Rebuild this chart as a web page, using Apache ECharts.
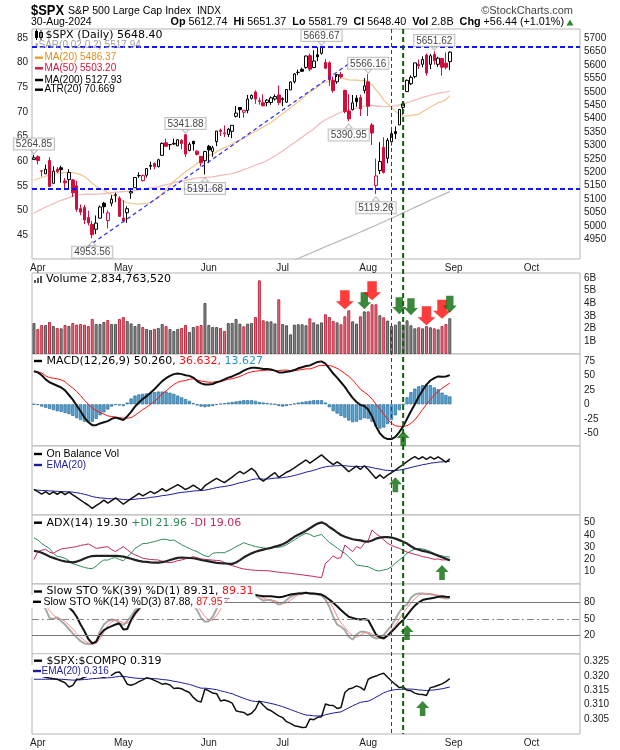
<!DOCTYPE html>
<html><head><meta charset="utf-8">
<script src="https://cdn.jsdelivr.net/npm/echarts@6/dist/echarts.min.js"></script>
<style>html,body{margin:0;padding:0;background:#fff}#c{width:620px;height:750px}</style>
</head><body><div id="c"></div>
<script>
// ---------------- DATA ----------------
const marketHolidays = ['2024-03-29','2024-05-27','2024-06-19','2024-07-04','2024-09-02'];
const slotCount = 141;
const prevClose = 5248.49;
const opens = [5248.03,5257.97,5204.29,5194.37,5244.05,5158.95,5211.37,5217.03,5167.88,5172.95,
5171.51,5149.67,5064.59,5068.97,5031.52,5005.44,4987.33,5028.85,5084.86,5019.88,
5084.65,5114.13,5103.78,5029.03,5049.32,5122.78,5142.42,5187.20,5168.98,5189.03,
5225.49,5233.08,5221.10,5263.26,5310.07,5303.10,5305.35,5298.69,5319.28,5340.26,
5281.45,5315.91,5278.73,5259.77,5243.21,5297.15,5278.24,5314.48,5357.80,5343.81,
5341.22,5353.00,5409.13,5441.93,5424.08,5431.11,5476.15,5499.99,5466.77,5459.58,
5460.73,5460.71,5473.59,5488.48,5471.08,5461.84,5507.44,5537.91,5572.75,5584.24,
5591.26,5635.21,5590.76,5638.16,5644.09,5610.07,5608.56,5543.37,5537.80,5565.30,
5505.84,5428.70,5433.67,5476.55,5478.73,5505.59,5537.84,5376.63,5151.14,5206.42,
5293.13,5252.57,5314.02,5351.88,5376.98,5442.34,5501.12,5530.50,5557.23,5602.88,
5603.09,5637.77,5602.89,5639.66,5602.89,5624.50,5607.30,5612.74];
const highs = [5264.85,5263.95,5208.34,5228.75,5256.59,5222.18,5219.57,5224.81,5178.43,5211.78,
5175.03,5168.43,5079.84,5077.96,5056.66,5019.02,5038.84,5076.12,5089.48,5057.75,
5114.62,5123.49,5110.83,5096.12,5073.21,5139.12,5181.00,5200.23,5191.95,5215.30,
5239.66,5237.26,5250.37,5311.76,5325.49,5305.45,5325.32,5324.32,5323.18,5341.88,
5311.65,5315.91,5282.27,5260.21,5280.33,5302.11,5298.80,5354.16,5362.35,5375.08,
5365.79,5375.95,5447.25,5441.93,5432.39,5488.50,5490.38,5505.53,5478.31,5490.66,
5472.88,5483.14,5490.81,5523.64,5479.55,5509.69,5539.27,5570.33,5583.11,5590.75,
5635.39,5642.45,5655.56,5666.94,5669.67,5622.49,5614.05,5557.50,5555.20,5575.00,
5508.04,5491.59,5488.32,5487.74,5489.46,5551.51,5566.16,5383.89,5250.89,5312.34,
5330.64,5328.03,5358.00,5371.20,5436.50,5463.22,5546.23,5561.98,5608.30,5620.51,
5632.68,5643.22,5641.82,5651.62,5631.18,5627.03,5646.95,5651.37];
const lows = [5245.82,5229.20,5184.05,5194.37,5146.06,5157.21,5197.35,5160.78,5138.70,5138.77,
5107.94,5052.47,5039.83,5007.25,5001.89,4953.56,4969.40,5027.96,5047.02,4990.58,
5073.14,5088.65,5035.31,5013.45,5011.05,5101.22,5142.42,5178.96,5165.86,5180.41,
5209.68,5211.16,5217.98,5263.26,5296.19,5283.59,5302.40,5297.87,5286.01,5256.93,
5278.39,5280.89,5262.70,5222.10,5191.68,5234.32,5257.63,5297.64,5335.36,5331.33,
5331.52,5327.25,5404.37,5402.51,5403.75,5420.40,5471.32,5455.56,5452.03,5447.59,
5446.56,5451.87,5467.54,5451.12,5446.53,5458.43,5507.42,5531.63,5562.51,5574.57,
5586.44,5576.53,5590.44,5614.75,5639.02,5584.81,5522.81,5497.04,5530.24,5550.90,
5419.98,5390.95,5430.70,5444.44,5410.00,5493.75,5410.42,5302.03,5119.26,5193.56,
5195.54,5233.85,5300.00,5324.37,5376.98,5415.17,5501.12,5525.33,5550.74,5585.50,
5591.57,5560.95,5585.16,5602.34,5593.48,5560.95,5583.71,5581.79];
const closes = [5254.35,5243.77,5205.81,5211.49,5147.21,5204.34,5202.39,5209.91,5160.64,5199.06,
5123.41,5061.82,5051.41,5022.21,5011.12,4967.23,5010.60,5070.55,5071.63,5048.42,
5099.96,5116.17,5035.69,5018.39,5064.20,5127.79,5180.74,5187.70,5187.67,5214.08,
5222.68,5221.42,5246.68,5308.15,5297.10,5303.27,5308.13,5321.41,5307.01,5267.84,
5304.72,5306.04,5266.95,5235.48,5277.51,5283.40,5291.34,5354.03,5352.96,5346.99,
5360.79,5375.32,5421.03,5433.74,5431.60,5473.23,5487.03,5473.17,5464.62,5447.87,
5469.30,5477.90,5482.87,5460.48,5475.09,5509.01,5537.02,5567.19,5572.85,5576.98,
5633.91,5584.54,5615.35,5631.22,5667.20,5588.27,5544.59,5505.00,5564.41,5555.74,
5427.13,5399.22,5459.10,5463.54,5436.44,5522.30,5446.68,5346.56,5186.33,5240.03,
5199.50,5319.31,5344.16,5344.39,5434.43,5455.21,5543.22,5554.25,5608.25,5597.12,
5620.85,5570.64,5634.61,5616.84,5625.80,5592.18,5591.96,5648.40];
const ma20 = [5170.57,5175.91,5179.65,5186.29,5188.41,5190.76,5194.70,5199.30,5198.57,5200.25,
5198.90,5196.14,5191.24,5183.42,5172.75,5159.03,5147.85,5140.47,5133.87,5123.87,
5116.15,5109.77,5101.26,5091.61,5087.46,5083.63,5082.55,5081.44,5082.79,5083.54,
5088.50,5096.48,5106.25,5120.54,5134.84,5151.64,5166.52,5179.06,5190.83,5201.80,
5212.04,5221.54,5233.10,5243.95,5254.62,5262.40,5267.93,5276.25,5284.51,5291.16,
5298.06,5305.76,5314.47,5320.75,5327.48,5335.98,5344.92,5352.51,5360.39,5369.39,
5377.62,5386.21,5397.01,5408.26,5418.14,5429.42,5441.70,5452.36,5463.36,5474.85,
5488.51,5498.97,5508.69,5518.56,5530.34,5536.09,5538.97,5540.56,5545.55,5550.95,
5548.84,5544.90,5543.72,5543.87,5541.94,5542.60,5538.08,5527.05,5507.73,5490.88,
5469.16,5455.90,5442.34,5428.00,5416.36,5409.70,5409.64,5412.10,5414.29,5416.36,
5426.04,5434.62,5443.39,5451.06,5460.52,5464.02,5471.28,5486.37];
const ma50 = [5046.77,5056.03,5063.35,5070.57,5076.22,5082.94,5089.10,5095.48,5100.13,5105.61,
5111.17,5114.28,5116.14,5117.73,5118.87,5118.31,5118.56,5119.44,5120.44,5122.35,
5124.34,5126.07,5126.67,5127.53,5129.18,5130.00,5131.84,5134.20,5136.39,5139.28,
5141.81,5143.50,5145.81,5150.40,5154.25,5157.17,5160.86,5164.93,5167.56,5169.61,
5172.69,5176.47,5178.82,5179.96,5181.02,5181.86,5183.00,5185.72,5188.71,5190.66,
5192.79,5195.42,5199.72,5204.17,5209.85,5215.23,5220.93,5226.19,5232.27,5237.25,
5244.16,5252.49,5261.11,5269.88,5279.16,5290.00,5300.52,5310.46,5320.48,5331.05,
5341.73,5351.10,5362.69,5374.95,5387.01,5396.22,5403.49,5409.84,5417.38,5424.21,
5428.30,5431.85,5436.10,5439.21,5442.00,5446.38,5449.15,5449.65,5447.24,5446.68,
5444.58,5444.84,5446.39,5448.56,5451.70,5455.14,5460.18,5464.18,5469.29,5474.29,
5479.49,5483.40,5487.67,5491.33,5495.22,5497.59,5499.69,5503.20];
const ma200 = [null,null,null,null,null,null,null,null,null,null,
null,null,null,null,null,null,null,null,null,null,
null,null,null,null,null,null,null,null,null,null,
null,null,null,null,null,null,null,null,null,null,
null,null,null,null,null,null,null,null,null,null,
null,null,null,null,null,null,null,null,null,null,
4829.3,4835.4,4841.5,4847.6,4853.7,4859.9,4866.1,4872.3,4878.5,4884.8,
4891.0,4897.2,4903.5,4909.7,4916.0,4922.1,4928.2,4934.3,4940.5,4946.6,
4952.6,4958.6,4964.7,4970.8,4977.0,4983.4,4989.7,4996.0,5002.3,5008.9,
5015.4,5022.1,5028.7,5035.3,5042.0,5048.7,5055.5,5062.2,5069.0,5075.6,
5082.3,5088.8,5095.5,5102.0,5108.6,5115.0,5121.5,5127.93];
const volumes = [2.45,1.98,2.29,2.29,2.53,2.21,2.06,2.03,2.29,2.21,
2.45,2.32,2.37,2.32,2.21,2.77,2.37,2.37,2.53,2.69,
2.37,2.37,2.77,2.92,2.61,2.42,2.21,2.37,2.13,1.98,
1.90,1.98,2.06,2.37,2.21,1.98,1.82,1.98,2.06,2.29,
1.74,2.13,2.21,2.29,4.03,2.29,2.13,2.13,2.06,1.82,
2.45,2.45,2.77,2.40,2.19,2.40,2.45,2.92,5.82,2.66,
2.58,2.58,2.42,4.32,2.37,2.27,1.55,2.32,2.35,2.35,
2.27,2.82,2.50,2.35,2.50,3.14,2.92,2.61,2.50,2.35,
2.98,3.45,2.58,2.40,2.98,3.37,3.37,3.93,3.93,3.06,
2.90,2.64,2.21,2.32,2.58,2.32,2.66,2.27,2.03,2.11,
2.03,2.21,2.11,2.03,1.95,2.21,2.37,2.83];
const macdLine = [57,55,50,43,38,35,32,29,24,16,
8,-2,-12,-23,-31,-36,-36,-33,-31,-29,
-25,-23,-25,-27,-21,-13,-4,3,9,14,
20,26,33,40,45,49,52,53,52,50,
49,46,40,36,34,34,35,38,40,43,
46,48,51,54,58,61,63,63,62,61,
61,60,58,55,55,56,57,59,62,64,
66,67,70,73,74,70,62,53,46,38,
30,20,11,4,-1,-3,-9,-21,-38,-50,
-57,-60,-60,-56,-48,-38,-25,-12,0,13,
24,34,41,45,48,47.5,48,50.26];
const macdSignal = [57,56,54,49,46,45,44,42,39,33,
28,22,15,7,0,-6,-11,-14,-17,-20,
-21,-22,-23,-24,-24,-23,-19,-14,-9,-5,
0,5,11,18,23,29,34,38,40,41,
43,44,42,40,39,38,38,39,39,41,
43,44,46,48,51,54,56,57,58,58,
59,59,58,58,59,59,58,58,59,60,
61,61,63,66,67,67,67,65,62,58,
53,48,42,34,26,21,16,9,0,-8,
-17,-26,-33,-37,-38,-38,-37,-33,-27,-18,
-9,0,8,16,22,27.5,32,36.63];
const macdHist = [0,-1,-4,-6,-8,-10,-12,-13,-15,-17,
-20,-24,-27,-30,-31,-30,-25,-19,-14,-9,
-4,-1,-2,-3,3,10,15,17,18,19,
20,21,22,22,22,20,18,15,12,9,
6,2,-2,-4,-5,-4,-3,-1,1,2,
3,4,5,6,7,7,7,6,4,3,
2,1,0,-3,-4,-3,-1,1,3,4,
5,6,7,7,7,3,-5,-12,-16,-20,
-23,-28,-31,-30,-27,-24,-25,-30,-38,-42,
-40,-34,-27,-19,-10,0,12,21,27,31,
33,34,33,29,26,20,16,13.63];
const obv = [0,-1.98,-4.27,-1.98,-4.51,-2.30,-4.36,-2.33,-4.62,-2.41,
-4.86,-7.18,-9.55,-11.87,-14.08,-16.85,-14.48,-12.11,-9.58,-12.27,
-9.90,-7.53,-10.30,-13.22,-10.61,-8.19,-5.98,-3.61,-5.74,-3.76,
-1.86,-3.84,-1.78,0.59,-1.62,0.36,2.18,4.16,2.10,-0.19,
1.55,3.68,1.47,-0.82,3.21,5.50,7.63,9.76,7.70,5.88,
8.33,10.78,13.55,15.95,13.76,16.16,18.61,15.69,9.87,7.21,
9.79,12.37,14.79,10.47,12.84,15.11,16.66,18.98,21.33,23.68,
25.95,23.13,25.63,27.98,30.48,27.34,24.42,21.81,24.31,21.96,
18.98,15.53,18.11,20.51,17.53,20.90,17.53,13.60,9.67,12.73,
9.83,12.47,14.68,17.00,19.58,21.90,24.56,26.83,28.86,26.75,
28.78,26.57,28.68,26.65,28.60,26.39,24.02,26.85];
const obvEma = [-0.5,-0.7,-1.0,-1.1,-1.4,-1.5,-1.8,-1.9,-2.2,-2.2,
-2.5,-3.0,-3.6,-4.4,-5.3,-6.4,-7.1,-7.6,-7.8,-8.2,
-8.4,-8.3,-8.5,-9.0,-9.2,-9.1,-8.8,-8.3,-8.1,-7.7,
-7.1,-6.8,-6.3,-5.6,-5.2,-4.7,-4.0,-3.2,-2.7,-2.4,
-2.0,-1.5,-1.2,-1.1,-0.7,-0.1,0.7,1.5,2.1,2.5,
3.1,3.8,4.8,5.8,6.5,7.4,8.5,9.2,9.2,9.0,
9.1,9.4,9.9,10.0,10.3,10.8,11.4,12.2,13.1,14.1,
15.2,15.9,16.8,17.9,19.1,19.9,20.4,20.6,20.9,21.0,
20.9,20.4,20.3,20.3,20.1,20.2,19.9,19.3,18.4,17.9,
17.1,16.7,16.6,16.7,17.0,17.6,18.4,19.3,20.2,20.9,
21.8,22.3,23.1,23.5,24.0,24.3,24.4,24.7];
const adx = [27,26.5,25.5,24,22.5,21.3,20.2,19.2,18.5,18,
17.7,18.3,19.4,20.8,22,22.8,23,23,23,22.9,
22.9,22.9,22.7,22.3,21.5,20.6,19.7,18.9,18.3,18,
17.7,17.5,17.4,17.8,18.6,19.6,20.5,21.3,21.6,21.4,
21.2,21,20.4,19.6,19,18.4,17.8,17.3,17,16.8,
16.5,16.4,17.5,19.5,21.8,23.5,25,26.3,27.2,28,
28.8,29.5,30.5,31.3,32.5,34,36.3,38.5,40.2,41.8,
43.5,45.5,47.5,49.3,50.3,49,46.5,44.5,42.2,40,
38.5,37.5,36.5,36,35.6,34.8,34.5,35.5,37,37.8,
38.3,38.2,37.9,37,35.8,34.5,33,30.8,29,28,
27,26.4,25.5,24.3,23.1,21.8,20.6,19.30];
const plusDI = [37.5,36,33,31,29,25,22.5,22,21,19,
16.5,15.5,14.5,13.5,12.8,12.5,14.5,17.5,19.6,19.5,
21,21.5,20,19,22,25,29,31,33,33,
34,34.6,35.5,36.5,36.5,35.5,35.9,34,32,30.5,
29,27.5,26.4,24.5,23,22.3,25.1,25.5,25.6,25.5,
27,28.5,30.5,32,33.7,32.5,31.5,30.5,30,29.5,
29.1,29.5,30,30,30.5,32,34,35.9,38,40,
41.4,40.5,38.7,39.5,40.5,37,34,31.8,29.5,27,
25.1,22,19,15.5,15,14.5,14.1,12.5,11,10.6,
11.5,12.2,14,17,19.6,22,25.1,27,28.5,29.1,
28.5,27.8,26.5,25,23.7,23,22.2,21.96];
const minusDI = [20,26.4,27.5,28.3,26,25.1,27,28.5,29.1,29.5,
30,30.5,31.5,32,32.7,31,29.1,29.5,30,30.5,
28,26.4,28.5,30.5,28,25.5,23.7,22.5,21,20.5,
20,19.8,19.6,18.5,17.8,17.4,18,19,19.6,20.5,
21.5,22.3,21.5,20.5,20.1,19.8,19.5,19.2,19,17.5,
16,15,14.1,13,12.3,11.8,11.4,11.2,11,10.9,
10.9,10.5,10,9.6,9.3,9,8.6,8.2,7.9,7.5,
7,6.6,6.2,5.6,5.2,16.9,19.5,22.9,20.9,21.5,
31.8,29,26.4,30.5,29,33.2,35.5,44.1,41,38.9,
36,33.2,31.5,30.2,29.1,27.5,26,25.1,24.2,23.5,
22.3,21.8,21,20.1,20.5,19.6,19.8,19.06];
const stoK39 = [85,84,82,80,78,77,77,76,74,71,
64,54,40,28,14,6,9,22,30,34,
37,40,42,31,32,48,60,68,76,82,
86,88,90,93,94,94,95,95,94,92,
91,90,87,83,81,80,81,84,86,88,
89,90,92,93,93,94,94,93,92,91,
91,91,90,89,90,92,94,95,96,96,
97,96,96,95,94,90,85,79,73,66,
60,54,52,50,49,50,48,35,22,17,
15,20,27,34,42,48,57,66,74,80,
84,86,87,88,90,91,90,89.31];
const stoK14 = [88,82,75,68,52,50,53,46,40,32,
24,17,10,6,5,5,9,28,40,46,
49,48,42,39,46,55,66,74,84,90,
94,93,94,96,95,94,92,93,90,82,
82,75,66,52,45,46,54,68,80,88,
91,94,96,97,96,95,95,92,88,83,
84,84,80,76,78,84,90,93,96,97,
97,96,95,94,92,85,72,54,40,36,
30,18,13,22,27,27,25,18,15,16,
21,30,38,50,62,72,76,88,94,96,
96,95,95,93,90,88,87,87.88];
const stoD3 = [90,86,82,75,65,57,52,50,46,39,
32,24,17,11,7,5,6,14,26,38,
45,48,46,43,42,47,56,65,75,83,
89,92,94,94,95,95,94,93,92,88,
85,80,74,64,54,48,48,56,67,79,
86,91,94,96,96,96,95,94,92,88,
85,84,83,80,78,79,84,89,93,95,
97,97,96,95,94,90,83,70,55,43,
35,26,20,17,21,25,26,23,19,16,
17,22,30,39,50,61,70,79,86,93,
95,96,95,94,93,90,88,87.95];
const ratio = [0.3205,0.3200,0.3198,0.3195,0.3192,0.3190,0.3188,0.3182,0.3176,0.3161,
0.3167,0.3188,0.3189,0.3195,0.3200,0.3210,0.3205,0.3198,0.3195,0.3200,
0.3202,0.3211,0.3213,0.3195,0.3171,0.3167,0.3172,0.3180,0.3186,0.3193,
0.3190,0.3184,0.3178,0.3171,0.3173,0.3168,0.3156,0.3158,0.3155,0.3148,
0.3142,0.3125,0.3113,0.3109,0.3154,0.3148,0.3140,0.3138,0.3113,0.3116,
0.3112,0.3105,0.3079,0.3075,0.3073,0.3064,0.3070,0.3085,0.3113,0.3098,
0.3085,0.3079,0.3070,0.3061,0.3055,0.3041,0.3035,0.3027,0.3024,0.3021,
0.3022,0.3050,0.3048,0.3056,0.3058,0.3102,0.3098,0.3097,0.3087,0.3090,
0.3142,0.3154,0.3158,0.3165,0.3160,0.3150,0.3188,0.3195,0.3199,0.3205,
0.3209,0.3195,0.3182,0.3170,0.3159,0.3162,0.3150,0.3148,0.3140,0.3136,
0.3135,0.3132,0.3159,0.3162,0.3167,0.3172,0.3180,0.3190];
const ratioEma = [0.3188,0.3188,0.3188,0.3188,0.3188,0.3188,0.3188,0.3188,0.3187,0.3186,
0.3185,0.3185,0.3186,0.3187,0.3188,0.3190,0.3191,0.3192,0.3192,0.3193,
0.3194,0.3196,0.3198,0.3198,0.3196,0.3194,0.3192,0.3191,0.3191,0.3191,
0.3191,0.3190,0.3189,0.3187,0.3186,0.3184,0.3181,0.3179,0.3176,0.3173,
0.3170,0.3166,0.3161,0.3157,0.3157,0.3156,0.3154,0.3152,0.3148,0.3145,
0.3141,0.3138,0.3132,0.3127,0.3122,0.3117,0.3113,0.3111,0.3111,0.3110,
0.3107,0.3104,0.3101,0.3097,0.3093,0.3088,0.3083,0.3078,0.3073,0.3068,
0.3064,0.3063,0.3061,0.3061,0.3061,0.3065,0.3068,0.3071,0.3073,0.3075,
0.3082,0.3089,0.3096,0.3102,0.3108,0.3110,0.3112,0.3118,0.3126,0.3133,
0.3141,0.3146,0.3150,0.3152,0.3153,0.3154,0.3154,0.3154,0.3153,0.3151,
0.3150,0.3149,0.3150,0.3151,0.3153,0.3155,0.3158,0.3161];
// annotations: [index, price, text, side]
const priceNotes = [[0,5264.85,'5264.85','top'],[15,4953.56,'4953.56','bottom'],[39,5341.88,'5341.88','top'],
 [44,5191.68,'5191.68','bottom'],[74,5669.67,'5669.67','top'],[86,5566.16,'5566.16','top'],
 [81,5390.95,'5390.95','bottom'],[88,5119.26,'5119.26','bottom'],[103,5651.62,'5651.62','top']];
const levelLines = [5669.67, 5140];
const trendline = [[13.65,4921],[81.3,5608]];
const eventIdx = [92, 95];
const volArrows = [[80,3.53,'r'],[85,3.53,'g'],[87,4.24,'r'],[94,3.14,'g'],[97,3.06,'g'],[101,2.27,'r'],[105,2.79,'r'],[107,3.26,'g']];
const macdArrow = [[95,-46]], obvArrow = [[93,10.6]], adxArrow = [[105,15.5]], stoArrow = [[96,39.2]], ratioArrow = [[100,0.3113]];
const priceTicks = [4950,5000,5050,5100,5150,5200,5250,5300,5350,5400,5450,5500,5550,5600,5650,5700];
const leftTicks = [45,50,55,60,65,70,75,80,85];
const volTicks = [1,2,3,4,5,6];
const macdTicks = [-50,-25,0,25,50,75];
const adxTicks = [10,20,30,40,50];
const stoTicks = [20,50,80];
const ratioTicks = [0.305,0.310,0.315,0.320,0.325];
const monthNames = ['Jan','Feb','Mar','Apr','May','Jun','Jul','Aug','Sep','Oct','Nov','Dec'];

// -------------- build --------------
function buildDates(){const out=[];const d=new Date(Date.UTC(2024,2,28));while(out.length<slotCount){const wd=d.getUTCDay();const s=d.toISOString().slice(0,10);if(wd!==0&&wd!==6&&!marketHolidays.includes(s))out.push(s);d.setUTCDate(d.getUTCDate()+1);}return out;}
const dates = buildDates();
const monthStart = new Set();
dates.forEach((d,i)=>{ if(i>0 && d.slice(5,7)!==dates[i-1].slice(5,7)) monthStart.add(i); });
const RED='#d40c3c', BLK='#000';
const trendCol = closes.map((c,i)=> c >= (i?closes[i-1]:prevClose) ? BLK : RED);
const candleData = closes.map((c,i)=>{const o=opens[i];const t=trendCol[i];const f=c>o?'#fff':t;
  return {value:[o,c,lows[i],highs[i]],itemStyle:{color:f,color0:f,borderColor:t,borderColor0:t}};});
const volData = volumes.map((v,i)=>({value:v,itemStyle: trendCol[i]===BLK?{color:'#8a8a8a',borderColor:'#505050'}:{color:'#d9737f',borderColor:'#c32a42'}}));

const AX='Liberation Sans', UI='DejaVu Sans';
const grids=[[29,230],[273,81],[354,92],[446,69],[515,69],[584,70],[654,80]].map(([t,h])=>({left:32,right:40,top:t,height:h,show:true,borderColor:'#b4b4b4',borderWidth:1,backgroundColor:'#fff'}));
const xAxes = grids.map((g,i)=>({type:'category',gridIndex:i,data:dates,boundaryGap:true,
  axisLine:{show:false},axisTick:{show:false},splitLine:{show:false},
  axisLabel:{show:(i===0||i===6),interval:(idx)=>monthStart.has(idx),margin:4,fontSize:10,fontFamily:AX,color:'#222',
    formatter:(v)=>monthNames[parseInt(v.slice(5,7),10)-1]}}));
xAxes.push({type:'value',gridIndex:0,min:-0.5,max:slotCount-0.5,show:false});
function yax(gi,min,max,ticks,fmt,pos){return {type:'value',gridIndex:gi,min,max,position:pos||'right',
  splitLine:{show:false},axisLine:{show:false},axisTick:{show:false},
  axisLabel:{show:!!ticks,customValues:ticks||[],margin:4,fontSize:10,fontFamily:AX,color:'#222',formatter:fmt||(v=>String(v))}};}
const yAxes=[
  yax(0,4876.5,5734.7,priceTicks),
  yax(1,0,6.4,volTicks,v=>v+'B'),
  yax(2,-71.9,86.7,macdTicks),
  yax(3,-22.7,38.3,null),
  yax(4,0,56.3,adxTicks),
  yax(5,-13,112.9,stoTicks),
  yax(6,0.29983,0.32755,ratioTicks,v=>v.toFixed(3)),
  yax(0,40.15,86.8,leftTicks,null,'left')
];
const downArrow='path://M4.5,0 L14.5,0 L14.5,11 L19,11 L9.5,19 L0,11 L4.5,11 Z';
const upArrow='path://M7,0 L14,7 L10,7 L10,15 L4,15 L4,7 L0,7 Z';
function line(xi,yi,data,color,w,z,extra){return Object.assign({type:'line',xAxisIndex:xi,yAxisIndex:yi,data,showSymbol:false,symbol:'none',
  lineStyle:{color,width:w},z:z||2,silent:true,animation:false,connectNulls:false},extra||{});}
function upArr(xi,yi,pts){return {type:'scatter',xAxisIndex:xi,yAxisIndex:yi,data:pts,symbol:upArrow,symbolSize:[13,15],symbolOffset:[0,7.5],
  itemStyle:{color:'#0a6a0a'},z:20,silent:true,clip:false};}
const noteSeries = priceNotes.map(([i,v,t,side])=>({type:'scatter',xAxisIndex:0,yAxisIndex:0,data:[[i,v]],
  symbol: side==='top'?'path://M0,0 L10,0 L5,7 Z':'path://M5,0 L10,7 L0,7 Z',symbolSize:[7,4],
  symbolOffset:[0, side==='top'?-3:5],itemStyle:{color:'#fff',borderColor:'#b0b0b0',borderWidth:1},z:15,silent:true,clip:false,
  label:{show:true,position:side,distance:side==='top'?0:1,formatter:t,fontSize:10,fontFamily:AX,color:'#111',
    backgroundColor:'#fff',borderColor:'#b0b0b0',borderWidth:1,padding:[1,2,0,2],lineHeight:10}}));

const series=[
  line(0,0,ma200,'#b8b8b8',1.2,1),
  line(0,0,ma50,'#f0b9b9',1.2,1),
  line(0,0,ma20,'#efc690',1.2,1),
  {type:'candlestick',xAxisIndex:0,yAxisIndex:0,data:candleData,barWidth:3,z:3,silent:true,
   itemStyle:{borderWidth:1},
   markLine:{silent:true,symbol:'none',label:{show:false},lineStyle:{color:'#1414ff',width:2,type:[5,3]},
     data:levelLines.map(v=>({yAxis:v}))}},
  line(7,0,trendline,'#2a2aff',1.2,4,{lineStyle:{color:'#2a2aff',width:1.2,type:[4,3]}}),
  ...noteSeries,
  {type:'bar',xAxisIndex:1,yAxisIndex:1,data:volData,barWidth:3,itemStyle:{borderWidth:1},silent:true,z:2},
  {type:'scatter',xAxisIndex:1,yAxisIndex:1,data:volArrows.map(([i,v,c])=>({value:[i,v],symbolSize:c==='r'?[18,19]:[14,17],symbolOffset:[0,c==='r'?-9.5:-8.5],itemStyle:{color:c==='r'?'#ff0a0a':'#0a6a0a'}})),
    symbol:downArrow,z:20,silent:true,clip:false},
  {type:'bar',xAxisIndex:2,yAxisIndex:2,data:macdHist,barWidth:3.2,itemStyle:{color:'#55a3d2',borderColor:'#2a6a94',borderWidth:0.7},silent:true,z:1},
  line(2,2,macdSignal,'#ff1010',1,3),
  line(2,2,macdLine,'#111',2,4),
  upArr(2,2,macdArrow),
  line(3,3,obvEma,'#1c1c9c',1,2),
  line(3,3,obv,'#111',1.5,3),
  upArr(3,3,obvArrow),
  line(4,4,plusDI,'#2e8b57',1,2),
  line(4,4,minusDI,'#c4285a',1,2),
  line(4,4,adx,'#222',2.2,3),
  upArr(4,4,adxArrow),
  line(5,5,stoK14,'#a8a8a8',2,2,{markLine:{silent:true,symbol:'none',label:{show:false},
     data:[{yAxis:80,lineStyle:{color:'#777',width:1,type:'solid'}},{yAxis:20,lineStyle:{color:'#777',width:1,type:'solid'}},{yAxis:50,lineStyle:{color:'#888',width:1,type:[7,3,2,3]}}]}}),
  line(5,5,stoD3,'#f28a8a',1,3),
  line(5,5,stoK39,'#111',2,4),
  upArr(5,5,stoArrow),
  line(6,6,ratioEma,'#1c1c9c',1,2),
  line(6,6,ratio,'#111',1.5,3),
  upArr(6,6,ratioArrow)
];

const chart = echarts.init(document.getElementById('c'),null,{renderer:'canvas'});
chart.setOption({animation:false,backgroundColor:'#fff',grid:grids,xAxis:xAxes,yAxis:yAxes,series});

// ---------- texts ----------
function T(x,y,text,font,fill,o){return Object.assign({type:'text',x,y,z:100,silent:true,style:Object.assign({text,font,fill,textVerticalAlign:'middle',textAlign:'left'},(o&&o.style)||{})},(o&&o.el)||{});}
function mark(x,y,color){return {type:'rect',z:101,silent:true,shape:{x,y:y-1.2,width:8,height:2.4},style:{fill:color}};}
function row(x,y,rich,font,color,rcfg,bg){const st={text:rich,font,fill:color,textVerticalAlign:'middle',textAlign:'left',rich:rcfg||{}};
  if(bg){Object.assign(st,{backgroundColor:'#fff',padding:[1,2,1,13]});return {type:'text',x:x-13,y,z:100,silent:true,style:st};}
  return {type:'text',x,y,z:100,silent:true,style:st};}
const F11=`11px "${UI}"`, A10=`10px "${AX}"`, A105=`10.5px "${AX}"`;
const G=[];
// header
G.push(T(31,11,'$SPX',`bold 15px "${AX}"`,'#000',{el:{scaleX:0.86}}));
G.push(T(68,11,'S&P 500 Large Cap Index',`10.6px "${AX}"`,'#000'));
G.push(T(197,11,'INDX',`10px "${AX}"`,'#000'));
G.push(T(573,11,'©StockCharts.com',`11px "${AX}"`,'#444',{style:{textAlign:'right'}}));
G.push(T(31,22.5,'30-Aug-2024',A105,'#000'));
G.push({type:'text',x:564,y:22.5,z:100,silent:true,style:{text:'{b|Op} 5612.74  {b|Hi} 5651.37  {b|Lo} 5581.79  {b|Cl} 5648.40  {b|Vol} 2.8B  {b|Chg} +56.44 (+1.01%)',
  font:`10.8px "${AX}"`,fill:'#000',textAlign:'right',textVerticalAlign:'middle',rich:{b:{font:`bold 10.8px "${AX}"`,fill:'#000'}}}});
G.push({type:'polygon',z:100,silent:true,shape:{points:[[566.5,25.5],[573.5,25.5],[570,19.5]]},style:{fill:'#2a8a2a'}});
// price legend
G.push({type:'rect',z:101,silent:true,shape:{x:35,y:31,width:3,height:7},style:{fill:'#000'}});
G.push({type:'rect',z:101,silent:true,shape:{x:39.5,y:32.5,width:3,height:5},style:{fill:'#fff',stroke:'#000',lineWidth:1}});
G.push({type:'line',z:101,silent:true,shape:{x1:36.5,y1:29.5,x2:36.5,y2:40},style:{stroke:'#000',lineWidth:1}});
G.push({type:'line',z:101,silent:true,shape:{x1:41,y1:30,x2:41,y2:40},style:{stroke:'#000',lineWidth:1}});
G.push(T(45.5,35,'$SPX (Daily) 5648.40',F11,'#000'));
G.push(T(35,45.7,'\u2022SAR(0.02,0.2) 5517.94',A10,'#a0a0a0'));
G.push(mark(35,57.7,'#e6a030'));G.push(T(44.5,57.7,'MA(20) 5486.37',A10,'#e09020'));
G.push(mark(35,68.3,'#d2143c'));G.push(T(44.5,68.3,'MA(50) 5503.20',A10,'#d2143c'));
G.push(mark(35,80,'#000'));G.push(T(44.5,80,'MA(200) 5127.93',A10,'#000'));
G.push(mark(35,89.7,'#000'));G.push(T(44.5,89.7,'ATR(20) 70.669',A10,'#000'));
// volume legend
[[34,3],[37,5],[40,7]].forEach(([x,h])=>G.push({type:'rect',z:101,silent:true,shape:{x,y:283-h,width:2,height:h},style:{fill:'#555'}}));
G.push(T(46,279.3,'Volume 2,834,763,520',F11,'#000'));
// MACD
G.push(mark(34,361,'#000'));
G.push(row(46.6,361,'{k|MACD(12,26,9) 50.260, }{r|36.632, }{b|13.627}',F11,'#000',{k:{fill:'#000',font:F11},r:{fill:'#ff1010',font:F11},b:{fill:'#2f8fcc',font:F11}}));
// OBV
G.push(mark(34,454,'#000'));G.push(T(46.6,454,'On Balance Vol',A105,'#000'));
G.push(mark(34,465,'#1c1c9c'));G.push(T(46.6,465,'EMA(20)',A10,'#1c1c9c'));
// ADX
G.push(mark(34,522.7,'#000'));
G.push(row(46.6,522.7,'{k|ADX(14) 19.30 }{g|+DI 21.96 }{r|-DI 19.06}',F11,'#000',{k:{fill:'#000',font:F11},g:{fill:'#2e8b57',font:F11},r:{fill:'#c4285a',font:F11}}));
// STO
G.push(row(46.6,591.5,'{k|Slow STO %K(39) %D(1) 89.31, }{r|89.31}',F11,'#000',{k:{fill:'#000',font:F11},r:{fill:'#ff1010',font:F11}},true));
G.push(row(43.5,601.8,'{k|Slow STO %K(14) %D(3) 87.88, }{r|87.95}',A105,'#000',{k:{fill:'#000',font:A105},r:{fill:'#ff1010',font:A105}},true));
G.push(mark(34,591.5,'#000'));G.push(mark(33,601.8,'#000'));
// ratio
G.push(row(46.6,660.7,'$SPX:$COMPQ 0.319',F11,'#000',null,true));
G.push(row(41.5,671,'EMA(20) 0.316',A10,'#1c1c9c',null,true));
G.push(mark(34,660.7,'#000'));G.push(mark(33,671,'#1c1c9c'));
// event lines
eventIdx.forEach((idx,k)=>{const x=chart.convertToPixel({xAxisIndex:0},dates[idx]);
  G.push({type:'line',z:110,silent:true,shape:{x1:x,y1:29,x2:x,y2:734},style:{stroke:'#0b640b',lineWidth:k?2:1,lineDash:k?[5,3]:[4,3]}});});
chart.setOption({graphic:{elements:G}});
</script></body></html>
